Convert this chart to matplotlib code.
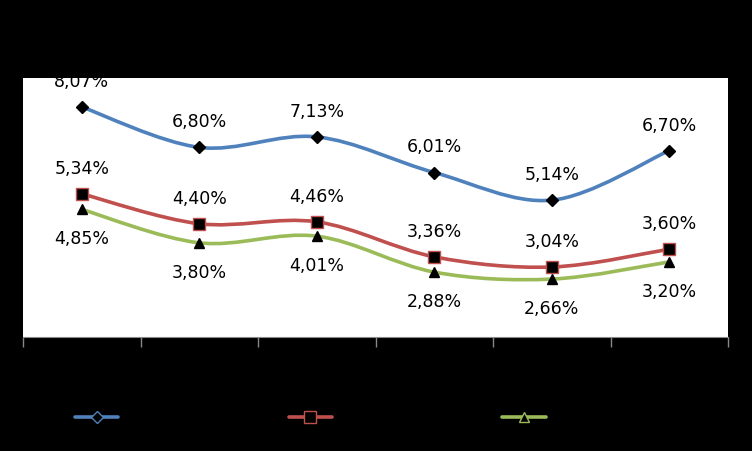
import numpy as np
import matplotlib.pyplot as plt
from matplotlib.path import Path
from matplotlib.patches import PathPatch
from matplotlib.lines import Line2D

categories = ["1", "2", "3", "4", "5", "6"]
serie_a = [8.07, 6.80, 7.13, 6.01, 5.14, 6.70]
serie_b = [5.34, 4.40, 4.46, 3.36, 3.04, 3.60]
serie_c = [4.85, 3.80, 4.01, 2.88, 2.66, 3.20]

BLUE = "#4F81BD"
RED = "#C0504D"
GREEN = "#9BBB59"


def smooth_path(xs, ys):
    """Bezier path through the points (Excel-style smoothed line)."""
    pts = np.column_stack([xs, ys]).astype(float)
    ext = np.vstack([pts[0], pts, pts[-1]])
    verts = [pts[0]]
    codes = [Path.MOVETO]
    for i in range(len(pts) - 1):
        p0, p1, p2, p3 = ext[i], ext[i + 1], ext[i + 2], ext[i + 3]
        verts += [p1 + (p2 - p0) / 6, p2 - (p3 - p1) / 6, p2]
        codes += [Path.CURVE4] * 3
    return Path(verts, codes)


fig = plt.figure(figsize=(7.52, 4.51), dpi=100, facecolor="black")
ax = fig.add_axes([23 / 752, 1 - 337 / 451, 705 / 752, 259 / 451])
ax.set_facecolor("white")

x = np.arange(len(categories))
series = [
    (serie_a, BLUE, "D", 6, "above"),
    (serie_b, RED, "s", 8, "above"),
    (serie_c, GREEN, "^", 7, "below"),
]

handles = []
for vals, color, marker, ms, pos in series:
    ax.add_patch(PathPatch(smooth_path(x, vals), facecolor="none",
                           edgecolor=color, lw=2.6, capstyle="round", zorder=2))
    ax.plot(x, vals, ls="none", marker=marker, ms=ms, mfc="black",
            mec=color if marker == "s" else "black", mew=1, zorder=3)
    for xi, v in zip(x, vals):
        off = 25 if pos == "above" else -30
        ax.annotate(f"{v:.2f}%".replace(".", ","), (xi, v), xytext=(0, off),
                    textcoords="offset pixels", ha="center", va="center",
                    fontsize=12.5, color="black", annotation_clip=False)
    handles.append(Line2D([], [], color=color, lw=2.6, marker=marker, ms=ms,
                          mfc="black", mec=color, solid_capstyle="round"))

ax.set_xlim(-0.5, 5.5)
ax.set_ylim(0.84, 8.98)
ax.set_xticks(np.arange(-0.5, 5.6, 1))
ax.set_xticklabels([])
ax.set_yticks([])
ax.tick_params(axis="x", length=7, color="#888888", width=1)
for side in ["top", "right", "left"]:
    ax.spines[side].set_visible(False)
ax.spines["bottom"].set_color("#888888")

fig.legend(handles, [" ", " ", " "], ncol=3, frameon=False,
           loc="center left", bbox_to_anchor=(75 / 752, 1 - 418 / 451),
           borderpad=0, borderaxespad=0, handlelength=2.6, handletextpad=0.5,
           columnspacing=9.4, fontsize=12)

fig.savefig("out.png", dpi=100, facecolor="black")
